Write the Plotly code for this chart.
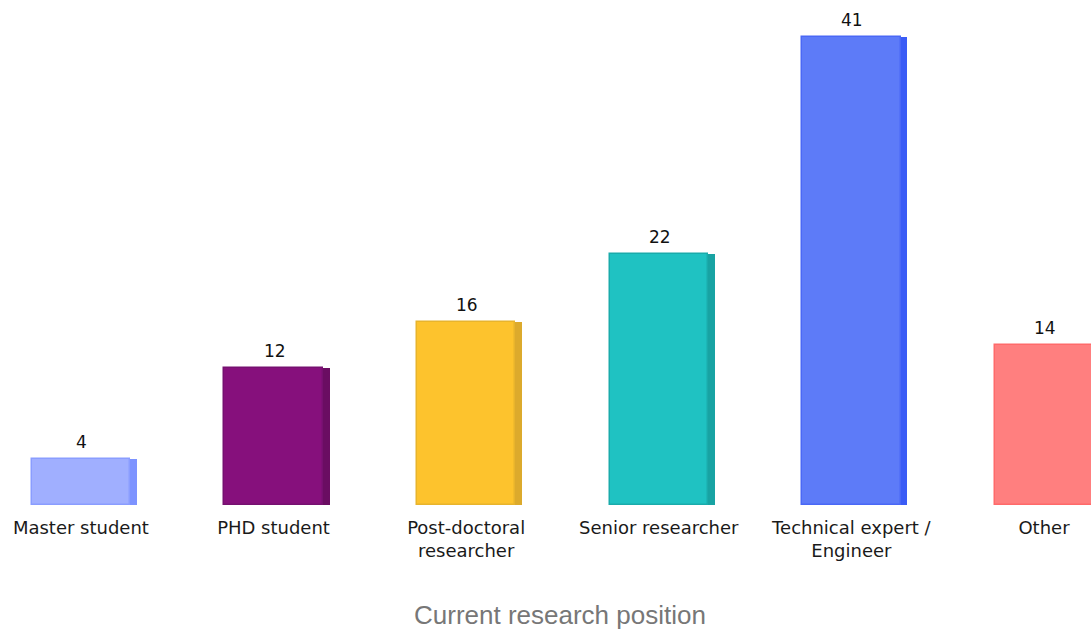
import plotly.graph_objects as go

positions = ["Master student", "PHD student", "Post-doctoral<br>researcher",
             "Senior researcher", "Technical expert /<br>Engineer", "Other"]
counts = [4, 12, 16, 22, 41, 14]

face_colors = ["#a0afff", "#86107c", "#fdc32d", "#1fc2c2", "#5d7bf8", "#ff7f7f"]
side_colors = ["#7d93ff", "#6a0d62", "#dcaa2c", "#18a3a3", "#3a5cf6", "#ff5c5c"]
edge_colors = ["#8a9dff", "#761070", "#e8b42c", "#1aabab", "#4a68f6", "#ff6a6a"]

BAR_W = 0.51
DEPTH = 0.036

fig = go.Figure()

# darker right-hand side to fake the 3d look
fig.add_trace(go.Bar(
    x=positions, y=counts,
    width=BAR_W + DEPTH, offset=-BAR_W / 2,
    marker=dict(color=side_colors, line=dict(width=0)),
    hoverinfo="skip", showlegend=False,
))
fig.add_trace(go.Bar(
    x=positions, y=counts,
    width=BAR_W, offset=-BAR_W / 2,
    marker=dict(color=face_colors, line=dict(color=edge_colors, width=1.5)),
    showlegend=False,
))

for cat, val in zip(positions, counts):
    fig.add_annotation(
        x=cat, y=val, text=str(val), showarrow=False,
        yanchor="bottom", yshift=5, xshift=1,
        font=dict(family="DejaVu Sans", size=17, color="#111111"),
    )

fig.add_annotation(
    text="Current research position", xref="paper", yref="paper",
    x=0.513, y=-0.218, showarrow=False, yanchor="middle",
    font=dict(family="Liberation Sans, Arial", size=26, color="#777777"),
)

fig.update_layout(
    width=1091, height=632,
    margin=dict(l=0, r=0, t=0, b=127),
    paper_bgcolor="white", plot_bgcolor="white",
    barmode="overlay", bargap=0,
    xaxis=dict(
        type="category", range=[-0.42, 5.244],
        showgrid=False, zeroline=False, showline=False, ticks="",
        ticklabelstandoff=10,
        tickfont=dict(family="DejaVu Sans", size=18, color="#1a1a1a"),
    ),
    yaxis=dict(
        range=[0, 44.26], visible=False, showgrid=False, zeroline=False,
    ),
)

fig.write_html(
    "out.html",
    config={"displayModeBar": False},
    post_script="document.body.style.margin='0';",
)
